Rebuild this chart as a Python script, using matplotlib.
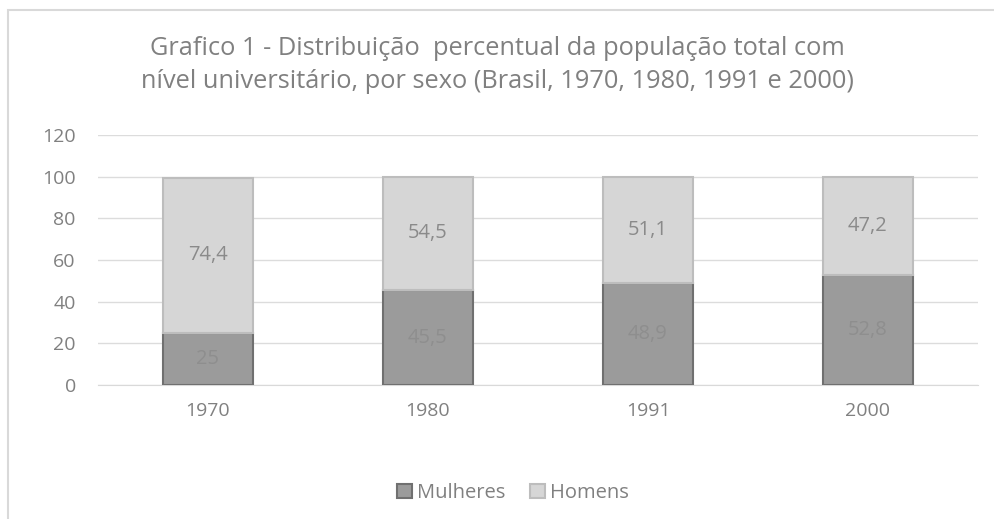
import matplotlib
matplotlib.use("Agg")
import matplotlib.pyplot as plt
from matplotlib.patches import Rectangle
import numpy as np

categories = ["1970", "1980", "1991", "2000"]
mulheres = [25, 45.5, 48.9, 52.8]
homens = [74.4, 54.5, 51.1, 47.2]
mulheres_labels = ["25", "45,5", "48,9", "52,8"]
homens_labels = ["74,4", "54,5", "51,1", "47,2"]
yticks = [0, 20, 40, 60, 80, 100, 120]

plt.rcParams['font.family'] = ['Open Sans', 'DejaVu Sans']
txt = '#808080'

fig = plt.figure(figsize=(9.95, 5.19), dpi=100)
fig.patches.append(Rectangle((8/995, -0.1), 1.2, 1 - 9.5/519 + 0.1, transform=fig.transFigure,
                             fill=False, edgecolor='#d9d9d9', linewidth=1.5))
ax = fig.add_axes([98/995, 1 - 385/519, 880/995, 250/519])

x = np.arange(len(categories))
w = 0.41
ax.bar(x, mulheres, w, color='#9b9b9b', edgecolor='#707070', linewidth=1.5, label='Mulheres', zorder=3)
ax.bar(x, homens, w, bottom=mulheres, color='#d6d6d6', edgecolor='#bdbdbd', linewidth=1.5, label='Homens', zorder=3)

for i in range(len(categories)):
    ax.text(x[i], mulheres[i] / 2, mulheres_labels[i], ha='center', va='center', fontsize=14.5, color='#8e8e8e', zorder=4)
    ax.text(x[i], mulheres[i] + homens[i] / 2, homens_labels[i], ha='center', va='center', fontsize=14.5, color='#8a8a8a', zorder=4)

ax.set_xlim(-0.5, len(categories) - 0.5)
ax.set_ylim(0, 120)
ax.set_yticks(yticks)
ax.set_xticks(x)
ax.set_xticklabels(categories)
ax.grid(axis='y', color='#dcdcdc', linewidth=1, zorder=0)
for s in ax.spines.values():
    s.set_visible(False)
ax.spines['bottom'].set_visible(True)
ax.spines['bottom'].set_color('#d9d9d9')
ax.tick_params(axis='both', length=0, labelsize=14, colors=txt)
ax.tick_params(axis='y', pad=16)
ax.tick_params(axis='x', pad=12)

fig.text(0.5, 1 - 65/519,
         "Grafico 1 - Distribuição  percentual da população total com\nnível universitário, por sexo (Brasil, 1970, 1980, 1991 e 2000)",
         ha='center', va='center', fontsize=18.3, color=txt, linespacing=1.42)

leg = fig.legend(loc='center', bbox_to_anchor=(513/995, 1 - 493/519), ncol=2, frameon=False,
                 fontsize=14.5, handlelength=0.75, handleheight=0.75, handletextpad=0.25, columnspacing=1.2)
for t in leg.get_texts():
    t.set_color(txt)

fig.savefig("out.png", dpi=100)
